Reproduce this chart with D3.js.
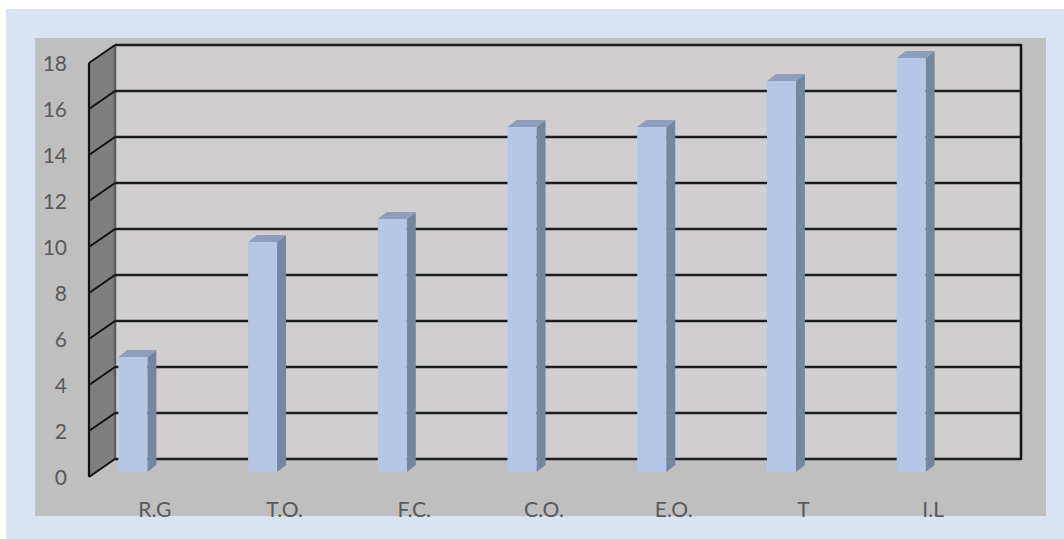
<!DOCTYPE html>
<html>
<head>
<meta charset="utf-8">
<script src="https://cdn.jsdelivr.net/npm/d3@7"></script>
<style>
  body { margin: 0; background: #fff; }
  svg { display: block; }
  text { font-family: Lato, "Open Sans", sans-serif; fill: #595959; }
</style>
</head>
<body>
<div id="chart"></div>
<script>
// datos del grafico
const categorias = ["R.G", "T.O.", "F.C.", "C.O.", "E.O.", "T", "I.L"];
const valores = [5, 10, 11, 15, 15, 17, 18];
const ticksY = [0, 2, 4, 6, 8, 10, 12, 14, 16, 18];

const width = 1064, height = 539;
const svg = d3.select("#chart").append("svg")
    .attr("width", width)
    .attr("height", height);

// fondo azul claro y area gris
svg.append("rect").attr("x", 6).attr("y", 9).attr("width", width - 6).attr("height", height - 9).attr("fill", "#dae3f3");
svg.append("rect").attr("x", 35).attr("y", 38).attr("width", 1011).attr("height", 478).attr("fill", "#bfbfbf");

// profundidad de la pared lateral
const depthX = -26, depthY = 18;
const wallLeft = 115, wallRight = 1021;

const y = d3.scaleLinear().domain([0, 18]).range([459, 45]);
const yBar = d3.scaleLinear().domain([0, 18]).range([472, 58]);
const x = d3.scaleBand().domain(categorias).range([68, 976]);

// pared del fondo
svg.append("rect")
    .attr("x", wallLeft).attr("y", y(18))
    .attr("width", wallRight - wallLeft).attr("height", y(0) - y(18))
    .attr("fill", "#d0cece");

// pared izquierda
svg.append("path")
    .attr("d", `M${wallLeft},${y(18)} L${wallLeft + depthX},${y(18) + depthY} L${wallLeft + depthX},${y(0) + depthY} L${wallLeft},${y(0)} Z`)
    .attr("fill", "#7f7f7f");

// borde interior de la pared izquierda
svg.append("line")
    .attr("x1", wallLeft).attr("x2", wallLeft)
    .attr("y1", y(18)).attr("y2", y(0))
    .attr("stroke", "#5e5e5e").attr("stroke-width", 2.5);

// lineas de cuadricula
ticksY.forEach(t => {
    svg.append("line")
        .attr("x1", wallLeft).attr("x2", wallRight)
        .attr("y1", y(t)).attr("y2", y(t))
        .attr("stroke", "#1c1c1c").attr("stroke-width", 2.5);
    svg.append("line")
        .attr("x1", wallLeft).attr("x2", wallLeft + depthX)
        .attr("y1", y(t)).attr("y2", y(t) + depthY)
        .attr("stroke", "#111").attr("stroke-width", 2);
    svg.append("text")
        .attr("x", 67).attr("y", y(t) + depthY)
        .attr("dy", "0.36em")
        .attr("text-anchor", "end")
        .attr("font-size", "21px")
        .text(t);
});

// bordes negros
svg.append("line")
    .attr("x1", wallLeft + depthX).attr("x2", wallLeft + depthX)
    .attr("y1", y(18) + depthY).attr("y2", y(0) + depthY)
    .attr("stroke", "#111").attr("stroke-width", 2.2);
svg.append("line")
    .attr("x1", wallRight).attr("x2", wallRight)
    .attr("y1", y(18) - 1).attr("y2", y(0) + 1)
    .attr("stroke", "#111").attr("stroke-width", 2.5);

// barras 3D
const barW = 29, bdx = 9, bdy = -7;
categorias.forEach((c, i) => {
    const cx = x(c) + x.bandwidth() / 2;
    const x0 = cx - barW / 2, x1 = cx + barW / 2;
    const yt = yBar(valores[i]), yb = yBar(0);
    // cara lateral
    svg.append("path")
        .attr("d", `M${x1},${yt} L${x1 + bdx},${yt + bdy} L${x1 + bdx},${yb + bdy} L${x1},${yb} Z`)
        .attr("fill", "#75869f");
    // cara superior
    svg.append("path")
        .attr("d", `M${x0},${yt} L${x0 + bdx},${yt + bdy} L${x1 + bdx},${yt + bdy} L${x1},${yt} Z`)
        .attr("fill", "#8d9fbc");
    // cara frontal
    svg.append("rect")
        .attr("x", x0).attr("y", yt)
        .attr("width", barW).attr("height", yb - yt)
        .attr("fill", "#b4c7e7");
    // etiqueta
    svg.append("text")
        .attr("x", cx + 22).attr("y", 509)
        .attr("dy", "0.36em")
        .attr("text-anchor", "middle")
        .attr("font-size", "21px")
        .text(c);
});
</script>
</body>
</html>
